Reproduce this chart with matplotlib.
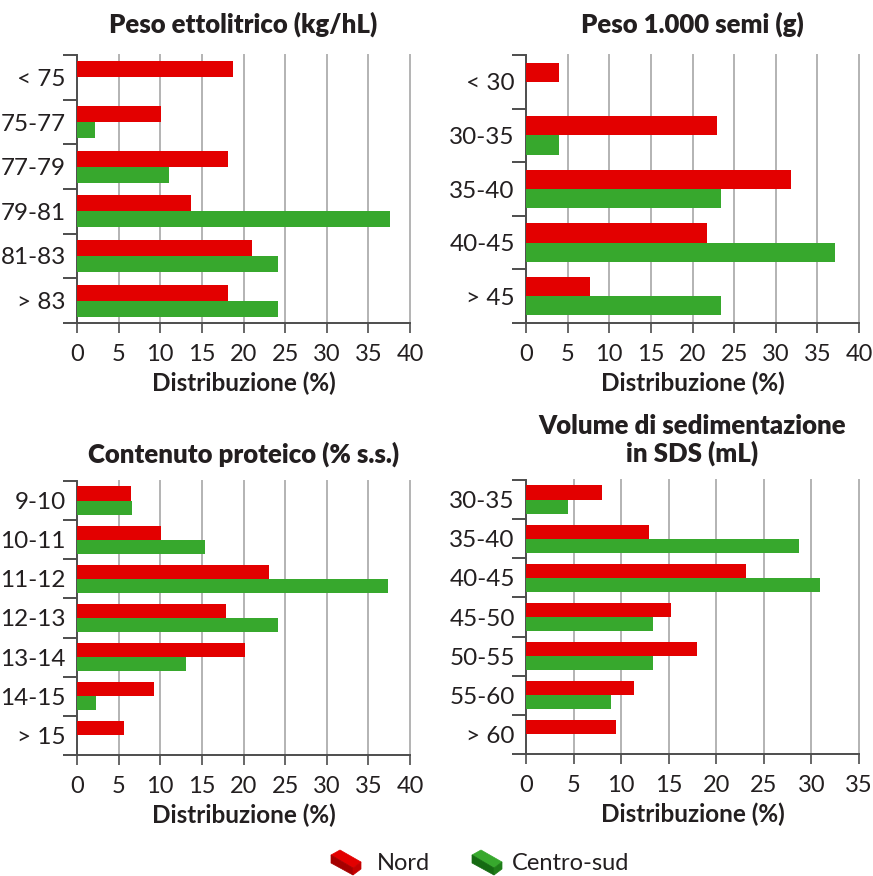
import matplotlib

matplotlib.use("Agg")

import matplotlib.pyplot as plt
import numpy as np
from matplotlib.patches import Polygon

plt.rcParams["font.family"] = ["Lato", "DejaVu Sans"]

RED = "#e30000"
GREEN = "#37a82d"
TEXT = "#231f20"
AXIS = "#4d4d4d"
GRID = "#b3b3b3"

# Peso ettolitrico (kg/hL)
hl_cats = ["< 75", "75-77", "77-79", "79-81", "81-83", "> 83"]
hl_nord = [18.7, 10.1, 18.1, 13.7, 21.0, 18.1]
hl_sud = [0.0, 2.2, 11.1, 37.6, 24.2, 24.2]

# Peso 1.000 semi (g)
seed_cats = ["< 30", "30-35", "35-40", "40-45", "> 45"]
seed_nord = [4.0, 23.0, 31.8, 21.7, 7.7]
seed_sud = [0.0, 4.0, 23.4, 37.1, 23.4]

# Contenuto proteico (% s.s.)
prot_cats = ["9-10", "10-11", "11-12", "12-13", "13-14", "14-15", "> 15"]
prot_nord = [6.5, 10.1, 23.1, 17.9, 20.2, 9.3, 5.7]
prot_sud = [6.6, 15.4, 37.4, 24.2, 13.1, 2.3, 0.0]

# Volume di sedimentazione in SDS (mL)
sds_cats = ["30-35", "35-40", "40-45", "45-50", "50-55", "55-60", "> 60"]
sds_nord = [8.0, 12.9, 23.1, 15.2, 18.0, 11.4, 9.45]
sds_sud = [4.4, 28.7, 30.9, 13.3, 13.3, 8.9, 0.0]

W, H = 873, 876


def add_axes_px(fig, left, top, right, bottom):
    return fig.add_axes([left / W, 1 - bottom / H, (right - left) / W, (bottom - top) / H])


def draw_panel(ax, title, cats, nord, sud, xmax, title_pad=16):
    n = len(cats)
    idx = np.arange(n)
    bh = 0.36
    ax.barh(idx + 0.5 - bh / 2, nord, height=bh, color=RED, linewidth=0, zorder=3)
    ax.barh(idx + 0.5 + bh / 2, sud, height=bh, color=GREEN, linewidth=0, zorder=3)

    ax.set_xlim(0, xmax)
    ax.set_ylim(n, 0)
    ax.set_xticks(np.arange(0, xmax + 1, 5))
    ax.set_yticks(idx + 0.5)
    ax.set_yticklabels(cats)
    ax.set_yticks(np.arange(n + 1), minor=True)

    for x in np.arange(5, xmax + 1, 5):
        ax.axvline(x, color=GRID, linewidth=1.4, zorder=1, clip_on=False)

    for side in ("top", "right"):
        ax.spines[side].set_visible(False)
    for side in ("left", "bottom"):
        ax.spines[side].set_color(AXIS)
        ax.spines[side].set_linewidth(1.4)

    ax.tick_params(axis="y", which="major", length=0, pad=8, labelsize=17.5, labelcolor=TEXT)
    ax.tick_params(axis="y", which="minor", length=10, width=1.4, color=AXIS)
    ax.tick_params(axis="x", length=7, width=1.2, color=AXIS, pad=8, labelsize=17, labelcolor=TEXT)

    ax.set_title(title, fontsize=18.5, fontweight="heavy", color=TEXT, pad=title_pad, linespacing=1.15)
    ax.set_xlabel("Distribuzione (%)", fontsize=17.5, fontweight="bold", color=TEXT, labelpad=5)


def brick(fig, x0, y0, top, side, end):
    # simple isometric box for the legend, pixel offsets from (x0, y0)
    faces = [
        ([(0, 5), (9, 0), (30, 12), (22, 18)], top),
        ([(0, 5), (22, 18), (22, 25), (0, 13)], side),
        ([(22, 18), (30, 12), (30, 19), (22, 25)], end),
    ]
    for pts, col in faces:
        xy = [((x0 + px) / W, 1 - (y0 + py) / H) for px, py in pts]
        fig.add_artist(Polygon(xy, closed=True, facecolor=col, edgecolor=col,
                               linewidth=0.5, transform=fig.transFigure))


fig = plt.figure(figsize=(W / 100, H / 100), dpi=100)

ax1 = add_axes_px(fig, 77, 55, 410, 323)
draw_panel(ax1, "Peso ettolitrico (kg/hL)", hl_cats, hl_nord, hl_sud, 40)

ax2 = add_axes_px(fig, 526, 55, 859, 323)
draw_panel(ax2, "Peso 1.000 semi (g)", seed_cats, seed_nord, seed_sud, 40)

ax3 = add_axes_px(fig, 77, 481, 410, 755)
draw_panel(ax3, "Contenuto proteico (% s.s.)", prot_cats, prot_nord, prot_sud, 40, title_pad=13)

ax4 = add_axes_px(fig, 526, 480, 859, 754)
draw_panel(ax4, "Volume di sedimentazione\nin SDS (mL)", sds_cats, sds_nord, sds_sud, 35, title_pad=13)

brick(fig, 331, 850, RED, "#a50000", "#c40000")
fig.text(377 / W, 1 - 864 / H, "Nord", fontsize=17, color=TEXT, va="center", ha="left")
brick(fig, 472, 850, GREEN, "#156a12", "#1f7d19")
fig.text(512 / W, 1 - 864 / H, "Centro-sud", fontsize=17, color=TEXT, va="center", ha="left")

fig.savefig("out.png", dpi=100)
